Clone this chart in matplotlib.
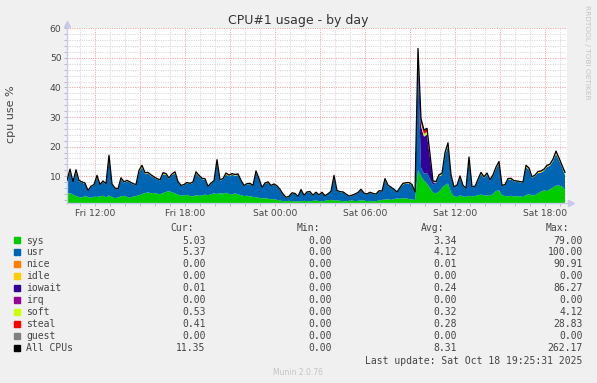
import numpy as np
import matplotlib.pyplot as plt
from matplotlib.patches import Rectangle

W, H = 597, 383

# samples: hours since Fri 00:00, one every 12 minutes
t0 = 10.133
dt = 0.2

total = [
    8.6, 12.4, 8.1, 12.2, 8.6, 8.1, 7.7, 5.2, 6.6, 7.2,
    10.3, 7.2, 8.4, 7.5, 17.1, 7.4, 6.0, 5.8, 9.5, 8.1,
    8.6, 8.1, 7.5, 7.2, 12.0, 13.7, 11.2, 11.3, 10.5, 9.8,
    9.2, 8.8, 11.2, 10.9, 9.4, 10.8, 11.5, 8.2, 6.9, 7.2,
    7.9, 7.6, 8.1, 11.5, 10.3, 9.3, 9.2, 6.6, 7.7, 8.5,
    15.6, 8.8, 9.2, 11.1, 10.4, 10.9, 10.6, 10.8, 8.6, 6.9,
    7.5, 7.6, 6.9, 11.8, 9.2, 6.2, 7.7, 8.1, 6.9, 7.4,
    6.8, 5.6, 4.0, 2.9, 3.2, 4.4, 4.2, 3.2, 5.5, 3.6,
    4.7, 4.8, 3.6, 4.6, 3.7, 4.6, 3.4, 4.1, 4.9, 10.3,
    5.2, 4.8, 4.7, 4.0, 3.3, 3.6, 4.0, 4.5, 5.6, 4.3,
    4.0, 4.6, 4.2, 4.0, 5.1, 5.0, 9.2, 7.0, 6.3, 5.6,
    4.7, 6.2, 7.6, 7.8, 7.9, 7.2, 4.7, 53.2, 29.5, 25.6,
    26.2, 17.5, 8.4, 8.2, 10.5, 11.0, 18.0, 21.3, 10.5, 6.4,
    7.0, 10.1, 6.9, 6.0, 16.5, 6.5, 6.6, 9.0, 11.3, 9.8,
    11.1, 8.8, 10.5, 13.1, 15.0, 6.9, 7.2, 9.2, 9.3, 8.5,
    8.4, 8.2, 8.0, 13.7, 12.8, 9.8, 10.4, 11.6, 11.8, 12.4,
    13.7, 14.1, 15.8, 18.5, 16.2, 13.7, 11.3,
]

sys_ = [
    4.0, 4.3, 3.8, 3.2, 3.0, 2.8, 3.3, 3.0, 2.7, 3.1,
    3.0, 3.2, 3.4, 2.9, 3.5, 3.0, 2.6, 2.8, 3.2, 3.4,
    3.0, 2.7, 3.1, 3.3, 3.6, 4.0, 4.3, 4.6, 4.2, 4.4,
    4.1, 3.9, 4.3, 4.7, 5.0, 4.6, 4.2, 3.8, 3.4, 3.5,
    3.7, 3.3, 3.2, 3.6, 3.4, 3.5, 3.8, 3.6, 3.9, 4.2,
    4.0, 4.3, 4.1, 4.4, 4.0, 3.8, 4.2, 3.9, 3.6, 3.3,
    3.4, 3.2, 3.0, 2.9, 2.7, 2.5, 2.6, 2.4, 2.2, 2.3,
    2.0, 1.8, 1.6, 1.5, 1.7, 1.6, 1.4, 1.6, 1.5, 1.7,
    1.6, 1.5, 1.7, 1.8, 1.6, 1.5, 1.7, 1.9, 2.0, 1.8,
    1.9, 1.7, 1.6, 1.5, 1.7, 1.8, 1.6, 1.7, 1.9, 1.8,
    1.6, 1.7, 1.5, 1.6, 1.8, 2.0, 2.1, 2.2, 2.0, 2.3,
    2.5, 2.4, 2.6, 2.5, 2.3, 2.1, 2.0, 12.0, 10.0, 8.5,
    7.5, 6.0, 4.5, 4.2, 4.8, 6.0, 7.0, 7.5, 4.5, 3.2,
    3.0, 3.5, 3.2, 3.0, 3.4, 3.1, 3.3, 3.6, 3.8, 3.5,
    3.5, 3.4, 4.0, 5.0, 5.2, 3.6, 3.3, 3.2, 3.4, 3.1,
    3.3, 3.2, 3.0, 3.6, 4.0, 3.5, 3.6, 4.2, 4.8, 5.2,
    5.0, 5.6, 6.2, 6.8, 6.9, 6.5, 5.5,
]

iowait = [0.0] * 117 + [3.0, 14.0, 12.5, 13.0, 7.0, 1.0] + [0.0] * 44

soft = [
    0.2, 0.4, 0.15, 0.4, 0.15, 0.15, 0.15, 0.1, 0.15, 0.15,
    0.3, 0.15, 0.15, 0.15, 0.4, 0.15, 0.1, 0.1, 0.3, 0.15,
    0.15, 0.15, 0.15, 0.15, 0.3, 0.4, 0.2, 0.2, 0.2, 0.15,
    0.15, 0.15, 0.3, 0.2, 0.15, 0.2, 0.3, 0.15, 0.1, 0.15,
    0.15, 0.15, 0.15, 0.3, 0.2, 0.15, 0.15, 0.1, 0.15, 0.15,
    0.4, 0.15, 0.15, 0.3, 0.2, 0.2, 0.2, 0.2, 0.15, 0.1,
    0.15, 0.15, 0.1, 0.3, 0.15, 0.1, 0.15, 0.15, 0.1, 0.15,
    0.1, 0.1, 0.1, 0.1, 0.1, 0.1, 0.1, 0.1, 0.1, 0.1,
    0.1, 0.1, 0.1, 0.1, 0.1, 0.1, 0.1, 0.1, 0.1, 0.3,
    0.1, 0.1, 0.1, 0.1, 0.1, 0.1, 0.1, 0.1, 0.1, 0.1,
    0.1, 0.1, 0.1, 0.1, 0.1, 0.1, 0.3, 0.15, 0.1, 0.1,
    0.1, 0.15, 0.2, 0.2, 0.2, 0.15, 0.1, 1.2, 1.0, 0.9,
    0.9, 0.6, 0.2, 0.2, 0.3, 0.3, 0.5, 0.6, 0.2, 0.1,
    0.15, 0.3, 0.15, 0.1, 0.4, 0.1, 0.1, 0.2, 0.3, 0.2,
    0.3, 0.15, 0.2, 0.3, 0.4, 0.1, 0.1, 0.2, 0.2, 0.15,
    0.15, 0.15, 0.15, 0.4, 0.3, 0.2, 0.2, 0.3, 0.3, 0.3,
    0.3, 0.3, 0.4, 0.5, 0.4, 0.3, 0.5,
]

steal = [
    0.15, 0.3, 0.15, 0.3, 0.15, 0.1, 0.1, 0.1, 0.1, 0.15,
    0.25, 0.1, 0.15, 0.1, 0.3, 0.1, 0.1, 0.1, 0.25, 0.15,
    0.15, 0.1, 0.1, 0.1, 0.25, 0.3, 0.2, 0.2, 0.15, 0.15,
    0.1, 0.1, 0.25, 0.2, 0.15, 0.2, 0.25, 0.1, 0.1, 0.1,
    0.1, 0.1, 0.15, 0.25, 0.2, 0.15, 0.15, 0.1, 0.1, 0.15,
    0.3, 0.15, 0.15, 0.25, 0.2, 0.2, 0.2, 0.2, 0.1, 0.1,
    0.1, 0.1, 0.1, 0.25, 0.15, 0.1, 0.1, 0.15, 0.1, 0.1,
    0.1, 0.1, 0.1, 0.1, 0.1, 0.1, 0.1, 0.1, 0.1, 0.1,
    0.1, 0.1, 0.1, 0.1, 0.1, 0.1, 0.1, 0.1, 0.1, 0.25,
    0.1, 0.1, 0.1, 0.1, 0.1, 0.1, 0.1, 0.1, 0.1, 0.1,
    0.1, 0.1, 0.1, 0.1, 0.1, 0.1, 0.25, 0.15, 0.1, 0.1,
    0.1, 0.1, 0.15, 0.15, 0.15, 0.1, 0.1, 1.0, 1.5, 1.3,
    1.2, 0.8, 0.2, 0.2, 0.25, 0.25, 0.4, 0.5, 0.2, 0.1,
    0.1, 0.25, 0.1, 0.1, 0.3, 0.1, 0.1, 0.15, 0.25, 0.15,
    0.25, 0.1, 0.15, 0.25, 0.3, 0.1, 0.1, 0.15, 0.15, 0.1,
    0.1, 0.1, 0.1, 0.3, 0.25, 0.15, 0.15, 0.25, 0.25, 0.25,
    0.25, 0.25, 0.3, 0.4, 0.3, 0.3, 0.4,
]

tick_hours = [12, 18, 24, 30, 36, 42]
tick_labels = ["Fri 12:00", "Fri 18:00", "Sat 00:00", "Sat 06:00", "Sat 12:00", "Sat 18:00"]

names = ["sys", "usr", "nice", "idle", "iowait", "irq", "soft", "steal", "guest", "All CPUs"]
colors = ["#00CC00", "#0066B3", "#FF8000", "#FFCC00", "#330099",
          "#990099", "#CCFF00", "#FF0000", "#808080", "#000000"]
cur = ["5.03", "5.37", "0.00", "0.00", "0.01", "0.00", "0.53", "0.41", "0.00", "11.35"]
mins = ["0.00", "0.00", "0.00", "0.00", "0.00", "0.00", "0.00", "0.00", "0.00", "0.00"]
avg = ["3.34", "4.12", "0.01", "0.00", "0.24", "0.00", "0.32", "0.28", "0.00", "8.31"]
mx = ["79.00", "100.00", "90.91", "0.00", "86.27", "0.00", "4.12", "28.83", "0.00", "262.17"]

TXT = "#444444"
AXC = "#C8C8EE"

fig = plt.figure(figsize=(W / 100, H / 100), dpi=100, facecolor="#F0F0F0")
ax = fig.add_axes([67 / W, 1 - 203.3 / H, 500 / W, 175 / H])
ax.set_facecolor("white")

total = np.array(total)
sys_ = np.array(sys_)
iowait = np.array(iowait)
soft = np.array(soft)
steal = np.array(steal)
usr = np.clip(total - sys_ - iowait - soft - steal, 0, None)
x = t0 + dt * np.arange(len(total))

x_end = t0 + 500 / 15
ax.set_xlim(t0, x_end)
ax.set_ylim(0.85, 60)

# grid: gray every hour / 2 units, red every 3 hours / 10 units
for h in range(11, 44):
    c = "#F0A8A8" if h % 3 == 0 else "#D8D8D8"
    ax.axvline(h, color=c, lw=0.7, ls=(0, (1.2, 1.2)), zorder=0)
for v in range(2, 61, 2):
    c = "#F0A8A8" if v % 10 == 0 else "#D8D8D8"
    ax.axhline(v, color=c, lw=0.7, ls=(0, (1.2, 1.2)), zorder=0)

ax.stackplot(x, sys_, usr, iowait, soft, steal,
             colors=[colors[0], colors[1], colors[4], colors[6], colors[7]],
             lw=0, zorder=2)
ax.plot(x, total, color="black", lw=0.9, zorder=3)

ax.set_xticks(tick_hours)
ax.set_xticklabels(tick_labels)
ax.set_xticks(range(11, 44), minor=True)
ax.set_yticks(range(10, 61, 10))
ax.set_yticks(range(2, 61, 2), minor=True)
ax.tick_params(axis="both", which="both", length=2, width=0.6, color="#B0B0B0",
               labelsize=6.6, labelcolor=TXT)
ax.tick_params(axis="y", pad=2)
ax.tick_params(axis="x", pad=1.8)

for s in ["top", "right"]:
    ax.spines[s].set_visible(False)
for s in ["left", "bottom"]:
    ax.spines[s].set_color(AXC)
    ax.spines[s].set_linewidth(1)

# axis arrows
ax.plot([t0], [61.6], marker="^", ms=4, color=AXC, clip_on=False, zorder=5)
ax.plot([t0 + 503.5 / 15], [0.85], marker=">", ms=4, color=AXC, clip_on=False, zorder=5)


def ptext(px, py, s, **kw):
    fig.text(px / W, 1 - py / H, s, **kw)


ptext(298.5, 24, "CPU#1 usage - by day", ha="center", va="baseline", fontsize=9, color="#333333")
ptext(11, 114, "cpu use %", ha="center", va="center", rotation=90, fontsize=8, color=TXT)
ptext(587, 52, "RRDTOOL / TOBI OETIKER", ha="center", va="center", rotation=270,
      fontsize=5.3, color="#C4C4C4")

mono = dict(family="DejaVu Sans Mono", fontsize=7, color=TXT, va="baseline")
ptext(170, 231, "Cur:", ha="left", **mono)
ptext(297, 231, "Min:", ha="left", **mono)
ptext(420.7, 231, "Avg:", ha="left", **mono)
ptext(546, 231, "Max:", ha="left", **mono)

for k, name in enumerate(names):
    yc = 240 + 11.97 * k
    fig.patches.append(Rectangle((14 / W, 1 - (yc + 3) / H), 6 / W, 6 / H,
                                 transform=fig.transFigure, color=colors[k]))
    yb = yc + 3.5
    ptext(26.3, yb, name, ha="left", **mono)
    ptext(205.7, yb, cur[k], ha="right", **mono)
    ptext(331.7, yb, mins[k], ha="right", **mono)
    ptext(456.7, yb, avg[k], ha="right", **mono)
    ptext(582.7, yb, mx[k], ha="right", **mono)

ptext(582.7, 363.5, "Last update: Sat Oct 18 19:25:31 2025", ha="right", **mono)
ptext(298, 375, "Munin 2.0.76", ha="center", va="baseline", fontsize=5.5, color="#C4C4C4")

fig.savefig("out.png", dpi=100, facecolor=fig.get_facecolor())
